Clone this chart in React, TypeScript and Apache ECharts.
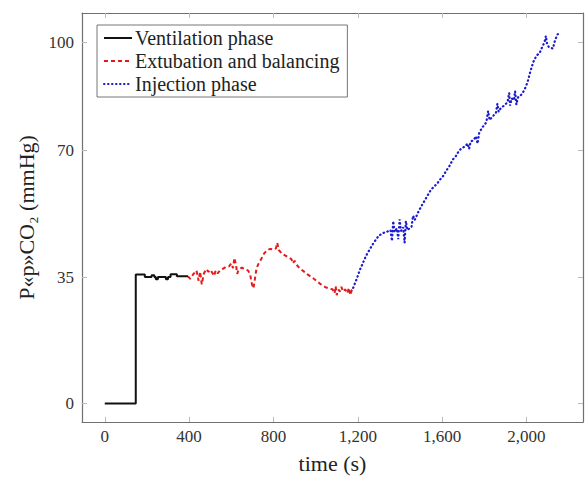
import React, { useEffect, useRef } from "react";
import * as echarts from "echarts";

// ---- data ----
const ventT = [0, 147, 190, 222, 235, 242, 252, 290, 300, 312, 342, 395];
const ventV = [0, 35.7, 35.0, 35.5, 35.0, 34.4, 35.0, 34.4, 35.0, 35.8, 35.2, 35.2];

const extT = [395, 405, 420, 435, 445, 452, 460, 470, 482, 492, 500, 510, 518, 526, 535, 548, 560, 575, 590, 600, 608, 615, 622, 628, 635, 650, 665, 680, 690, 698, 705, 712, 720, 730, 742, 755, 770, 785, 800, 812, 818, 825, 840, 855, 870, 885, 892, 900, 915, 930, 945, 960, 975, 990, 1005, 1020, 1035, 1050, 1065, 1080, 1090, 1095, 1100, 1108, 1115, 1122, 1130, 1140, 1150, 1158, 1165, 1172, 1178];
const extV = [35.2, 34.5, 35.8, 36.8, 34.0, 36.5, 33.0, 36.0, 37.2, 36.4, 37.0, 36.2, 35.3, 36.8, 36.0, 36.9, 37.3, 37.8, 38.0, 38.8, 37.5, 40.3, 38.5, 35.9, 37.0, 37.6, 37.2, 36.8, 35.5, 33.0, 31.9, 34.5, 37.5, 38.8, 40.0, 41.5, 42.5, 42.8, 42.6, 43.0, 44.5, 42.5, 41.5, 41.0, 40.5, 40.0, 38.8, 39.5, 38.0, 37.2, 36.5, 35.8, 35.2, 34.6, 33.9, 33.2, 32.6, 32.1, 31.8, 31.6, 30.5, 32.5, 30.0, 31.5, 31.0, 32.3, 31.0, 31.6, 30.5, 32.0, 30.0, 31.5, 32.0];

const injT = [1178, 1195, 1210, 1225, 1240, 1255, 1270, 1285, 1300, 1320, 1340, 1355, 1362, 1368, 1375, 1385, 1392, 1398, 1405, 1415, 1422, 1428, 1435, 1445, 1455, 1462, 1470, 1485, 1500, 1515, 1530, 1545, 1560, 1575, 1590, 1605, 1620, 1635, 1650, 1665, 1680, 1695, 1710, 1720, 1728, 1735, 1750, 1760, 1768, 1775, 1790, 1800, 1810, 1818, 1825, 1840, 1855, 1862, 1868, 1880, 1895, 1910, 1918, 1922, 1930, 1940, 1946, 1952, 1960, 1975, 1990, 2005, 2020, 2035, 2050, 2062, 2075, 2085, 2092, 2098, 2105, 2115, 2125, 2135, 2145, 2158];
const injV = [32.0, 34.5, 37.0, 39.0, 41.0, 42.5, 44.0, 45.3, 46.5, 47.2, 47.6, 48.0, 45.0, 50.5, 47.5, 48.5, 45.5, 51.0, 47.8, 48.8, 44.5, 50.5, 48.0, 48.5, 49.0, 52.0, 50.8, 52.8, 54.5, 56.0, 57.5, 59.0, 60.0, 60.8, 62.0, 63.0, 64.5, 65.8, 67.5, 68.5, 70.0, 70.8, 71.2, 72.0, 70.5, 72.5, 73.0, 74.0, 72.0, 74.8, 76.5, 77.0, 78.0, 81.0, 78.5, 79.5, 80.5, 83.0, 80.8, 82.0, 82.5, 83.5, 86.0, 82.5, 84.5, 84.0, 86.5, 82.8, 84.8, 85.5, 86.8, 89.0, 92.3, 95.0, 96.5, 97.0, 98.8, 100.0, 101.8, 99.5, 98.8, 98.5, 98.3, 100.5, 102.0, 103.0];

const xTicks = [0, 400, 800, 1200, 1600, 2000];
const yTicks = [0, 35, 70, 100];
const seriesNames = ["Ventilation phase", "Extubation and balancing", "Injection phase"];

const zip = (t: number[], v: number[]) => t.map((x, i) => [x, v[i]]);

const FONT = "'Liberation Serif', 'DejaVu Serif', serif";
const AXIS_COLOR = "#707070";

export default function App() {
  const ref = useRef<HTMLDivElement>(null);
  useEffect(() => {
    if (!ref.current) return;
    const chart = echarts.init(ref.current, undefined, { renderer: "svg" });
    const xMin = -108, xMax = 2268, yMin = -5.15, yMax = 108.15;
    const fmt = (v: number) => v.toLocaleString("en-US");
    const baseX = {
      type: "value" as const,
      min: xMin,
      max: xMax,
      splitLine: { show: false },
      axisLine: { show: true, onZero: false, lineStyle: { color: AXIS_COLOR, width: 1.2 } },
    };
    const baseY = {
      type: "value" as const,
      min: yMin,
      max: yMax,
      splitLine: { show: false },
      axisLine: { show: true, onZero: false, lineStyle: { color: AXIS_COLOR, width: 1.2 } },
    };
    chart.setOption({
      animation: false,
      backgroundColor: "#ffffff",
      textStyle: { fontFamily: FONT },
      grid: { left: 82, right: 3, top: 13, bottom: 55 },
      legend: {
        show: true,
        orient: "vertical",
        left: 97,
        top: 25,
        padding: [3, 8, 3, 6],
        itemWidth: 28,
        itemHeight: 14,
        itemGap: 3,
        borderColor: "#777",
        borderWidth: 1,
        borderRadius: 0,
        backgroundColor: "#fff",
        data: seriesNames,
        itemStyle: { opacity: 0 },
        textStyle: { fontFamily: FONT, fontSize: 20, color: "#222", padding: [0, 0, 0, -2] },
      },
      xAxis: [
        {
          ...baseX,
          position: "bottom",
          name: "time (s)",
          nameLocation: "middle",
          nameGap: 30,
          nameTextStyle: { fontFamily: FONT, fontSize: 22, color: "#222" },
          axisTick: { show: true, inside: true, length: 5, customValues: xTicks, lineStyle: { color: "#bbb" } },
          axisLabel: { show: true, customValues: xTicks, formatter: fmt, fontFamily: FONT, fontSize: 17, color: "#333", margin: 6 },
        },
        {
          ...baseX,
          position: "top",
          axisTick: { show: true, inside: true, length: 5, customValues: xTicks, lineStyle: { color: "#bbb" } },
          axisLabel: { show: false },
        },
      ],
      yAxis: [
        {
          ...baseY,
          position: "left",
          name: "P«p»CO₂ (mmHg)",
          nameLocation: "middle",
          nameGap: 43,
          nameTextStyle: { fontFamily: FONT, fontSize: 22, color: "#222" },
          axisTick: { show: true, inside: true, length: 5, customValues: yTicks, lineStyle: { color: "#bbb" } },
          axisLabel: { show: true, customValues: yTicks, fontFamily: FONT, fontSize: 17, color: "#333", margin: 8 },
        },
        {
          ...baseY,
          position: "right",
          axisTick: { show: true, inside: true, length: 5, customValues: yTicks, lineStyle: { color: "#bbb" } },
          axisLabel: { show: false },
        },
      ],
      series: [
        {
          name: seriesNames[0],
          type: "line",
          step: "end",
          data: zip(ventT, ventV),
          symbol: "none",
          lineStyle: { color: "#111", width: 2, type: "solid" },
          itemStyle: { color: "#111" },
        },
        {
          name: seriesNames[1],
          type: "line",
          data: zip(extT, extV),
          symbol: "none",
          lineStyle: { color: "#e3191c", width: 2, type: [4, 3] },
          itemStyle: { color: "#e3191c" },
        },
        {
          name: seriesNames[2],
          type: "line",
          data: zip(injT, injV),
          symbol: "none",
          lineStyle: { color: "#1a1ad0", width: 2.2, type: [0.5, 3.5], cap: "round" },
          itemStyle: { color: "#1a1ad0" },
        },
      ],
    });
    return () => chart.dispose();
  }, []);
  return (
    <div
      ref={ref}
      style={{ position: "fixed", left: 0, top: 0, width: 586, height: 479, overflow: "hidden" }}
    />
  );
}
